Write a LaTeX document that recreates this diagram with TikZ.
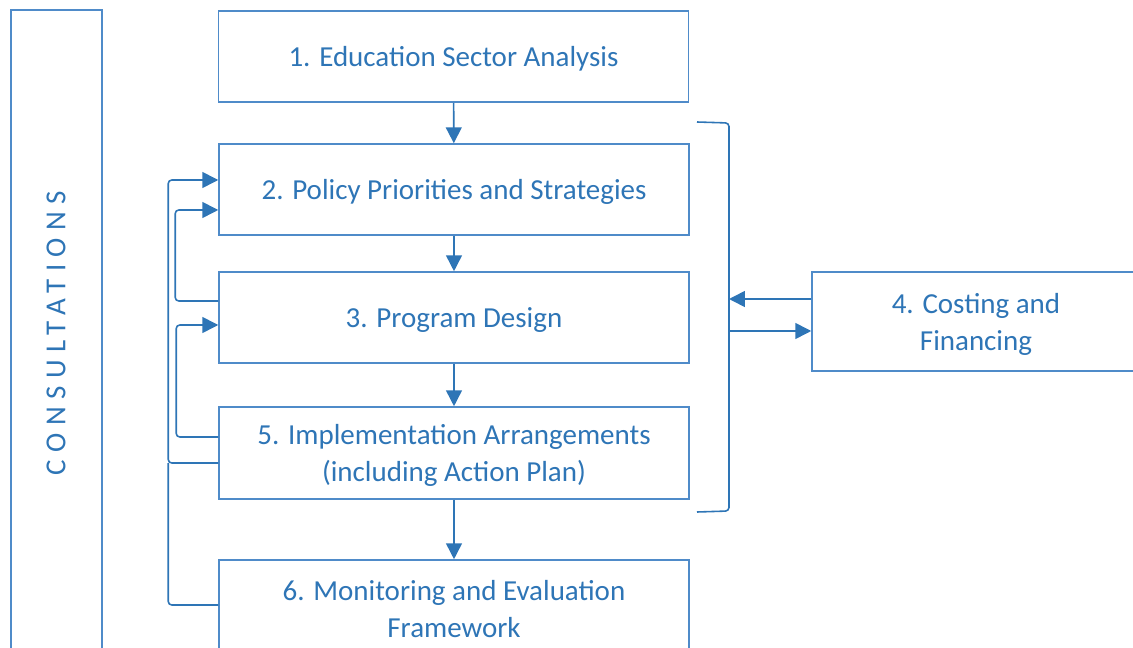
\documentclass[tikz,border=0pt]{standalone}
\usepackage{fontspec}
\setmainfont{Carlito}
\newfontfamily\spacedfont[LetterSpace=26]{Carlito}
\usetikzlibrary{arrows.meta}

\definecolor{planblue}{HTML}{2E75B6}
\definecolor{boxblue}{HTML}{4F8BC9}

\tikzset{
  stepbox/.style={draw=boxblue,line width=0.9pt,text=planblue,align=center,
    minimum width=9.4cm,minimum height=1.82cm,inner sep=2pt,text depth=0pt,
    font=\fontsize{16.5}{21}\selectfont},
  link/.style={draw=planblue,line width=0.9pt,-{Triangle[length=9pt,width=9pt]}},
  feed/.style={draw=planblue,line width=0.9pt,rounded corners=2pt}
}

\begin{document}
\begin{tikzpicture}[x=0.02cm,y=-0.02cm]

  \useasboundingbox (0,0) rectangle (1133,648);

  \node[stepbox,minimum width=1.82cm,minimum height=13.2cm] (consult) at (56.5,340) {};
  \node[text=planblue,rotate=90,font=\spacedfont\fontsize{16.5}{21}\selectfont] at (56,333) {CONSULTATIONS};

  \node[stepbox] (b1) at (453.5,56.5) {1. Education Sector Analysis};
  \node[stepbox] (b2) at (454,189.5) {2. Policy Priorities and Strategies};
  \node[stepbox] (b3) at (454,317.5) {3. Program Design};
  \node[stepbox,minimum height=1.84cm] (b5) at (454,453) {5. Implementation Arrangements\\(including Action Plan)};
  \node[stepbox,minimum height=1.96cm] (b6) at (454,609) {6. Monitoring and Evaluation\\Framework};
  \node[stepbox,minimum width=6.56cm,minimum height=1.98cm] (b4) at (976,321.5) {4. Costing and\\Financing};

  % main sequence
  \draw[link] (b1) -- (b2);
  \draw[link] (b2) -- (b3);
  \draw[link] (b3) -- (b5);
  \draw[link] (b5) -- (b6);

  % bracket round steps 2 to 5
  \coordinate (brT) at (729,123);
  \coordinate (brB) at (729,511);
  \draw[feed] (697,122) -- (brT) -- (brB) -- (697,512);

  \coordinate (in4) at ([yshift=0.45cm]b4.west);
  \coordinate (out4) at ([yshift=-0.19cm]b4.west);
  \draw[link] (in4) -- (in4 -| brT);
  \draw[link] (out4 -| brT) -- (out4);

  % feedback loops
  \draw[feed,-{Triangle[length=9pt,width=9pt]}] ([yshift=-0.2cm]b5.west) -- ++(-1cm,0) |- ([yshift=0.19cm]b2.west);
  \draw[feed] ([yshift=0.08cm]b6.west) -- ++(-1cm,0) -- ++(0,-142);
  \draw[feed,-{Triangle[length=9pt,width=9pt]}] ([yshift=0.33cm]b3.west) -- ++(-0.86cm,0) |- ([yshift=-0.41cm]b2.west);
  \draw[feed,-{Triangle[length=9pt,width=9pt]}] ([yshift=0.32cm]b5.west) -- ++(-0.84cm,0) |- ([yshift=-0.15cm]b3.west);

\end{tikzpicture}
\end{document}
